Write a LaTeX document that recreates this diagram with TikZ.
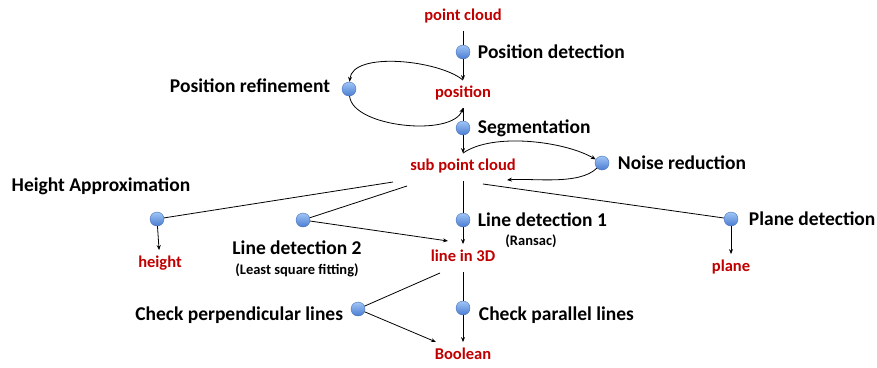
\documentclass[tikz,border=0pt]{standalone}
\usepackage{fontspec}
\setmainfont{Carlito}
\usetikzlibrary{positioning}
\usetikzlibrary{arrows.meta}
\definecolor{labelred}{RGB}{192,0,0}
\definecolor{dottop}{RGB}{160,198,245}
\definecolor{dotbottom}{RGB}{75,125,210}
\definecolor{dotedge}{RGB}{70,110,185}

\begin{document}
\begin{tikzpicture}[
            x=1pt, y=1pt,
            >={Stealth[length=5pt,width=4pt]},
            dotnode/.style={circle, minimum size=14pt, inner sep=0pt, top color=dottop, bottom color=dotbottom, draw=dotedge, line width=0.4pt},
            redlabel/.style={text=labelred, font=\fontsize{16.5}{19}\selectfont\bfseries, text height=11pt, text depth=4pt, inner ysep=6pt},
            steplabel/.style={font=\fontsize{19.5}{23}\selectfont\bfseries},
            notelabel/.style={font=\fontsize{14.5}{17}\selectfont\bfseries},
            every path/.append style={line width=0.8pt},
            ]
            \useasboundingbox (0,0) rectangle (877,-367);

            % main chain
            \node[redlabel] (cloud) at (463,-17) {point cloud};
            \node[dotnode] (posdet) at (463,-52) {};
            \node[steplabel, right=4pt of posdet] (posdetT) {Position detection};
            \node[redlabel] (pos) at (463,-94) {position};
            \node[dotnode] (posref) at (349,-89) {};
            \node[steplabel, left=8pt of posref, yshift=3pt] (posrefT) {Position refinement};
            \node[dotnode] (seg) at (463,-128) {};
            \node[steplabel, right=4pt of seg] (segT) {Segmentation};
            \node[redlabel] (sub) at (463,-167) {sub point cloud};
            \node[dotnode] (noise) at (602,-163) {};
            \node[steplabel, right=5pt of noise] (noiseT) {Noise reduction};

            % detections
            \node[steplabel] (heightT) at (101,-186) {Height Approximation};
            \node[dotnode] (hdot) at (157,-219) {};
            \node[redlabel] (height) at (160,-264) {height};
            \node[dotnode] (ld2) at (303,-220) {};
            \node[steplabel] (ld2T) at (297,-248) {Line detection 2};
            \node[notelabel] (ld2N) at (297,-270) {(Least square fitting)};
            \node[dotnode] (ld1) at (463,-220) {};
            \node[steplabel, right=4pt of ld1] (ld1T) {Line detection 1};
            \node[notelabel] (ld1N) at (531,-241) {(Ransac)};
            \node[redlabel] (line3d) at (463,-258) {line in 3D};
            \node[dotnode] (plane) at (731,-219) {};
            \node[steplabel, right=7pt of plane] (planeT) {Plane detection};
            \node[redlabel] (planeL) at (731,-268) {plane};

            % checks
            \node[dotnode] (perp) at (358,-309) {};
            \node[steplabel, left=4pt of perp, yshift=-6pt] (perpT) {Check perpendicular lines};
            \node[dotnode] (par) at (463,-308) {};
            \node[steplabel, right=5pt of par, yshift=-7pt] (parT) {Check parallel lines};
            \node[redlabel] (bool) at (463,-356) {Boolean};

            % free ends
            \coordinate (noiseend) at (507,-180);
            \coordinate (subH) at (393,-182);
            \coordinate (subL) at (407,-186);
            \coordinate (subP) at (483,-184);
            \coordinate (lineIn) at (448,-241);
            \coordinate (lineOut) at (440,-273);
            \coordinate (boolIn) at (436,-342);

            \draw (cloud) -- (posdet);
            \draw[->] (posdet) -- (pos);
            \draw[->] (pos.north) to[out=140, in=85, looseness=0.7] (posref);
            \draw[->] (posref) to[out=-85, in=-110, looseness=0.7] (pos.south);
            \draw (pos) -- (seg);
            \draw[->] (seg) -- (sub);
            \draw[->] (sub.north) to[out=35, in=150, looseness=0.7] (noise);
            \draw[->] (noise) to[out=-135, in=5, looseness=0.7] (noiseend);

            \draw (subH) -- (hdot);
            \draw (subL) -- (ld2);
            \draw (sub) -- (ld1);
            \draw (subP) -- (plane);
            \draw[->] (hdot) -- (height);
            \draw[->] (ld2) -- (lineIn);
            \draw[->] (ld1) -- (line3d);
            \draw[->] (plane) -- (planeL);

            \draw (lineOut) -- (perp);
            \draw (line3d) -- (par);
            \draw[->] (perp) -- (boolIn);
            \draw[->] (par) -- (bool);
        \end{tikzpicture}
\end{document}
